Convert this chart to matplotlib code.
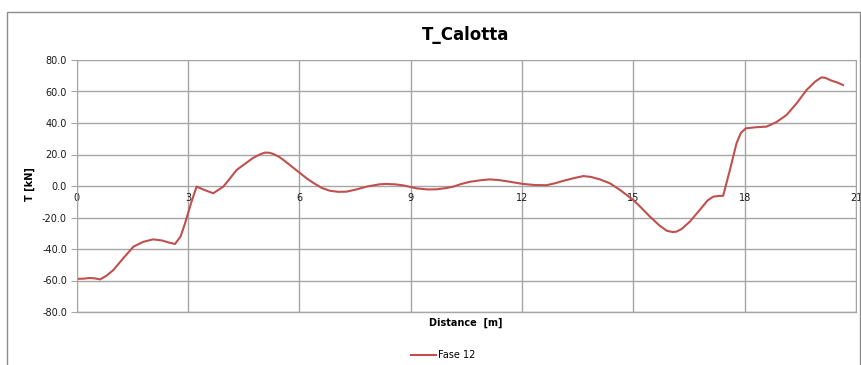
import matplotlib.pyplot as plt
from matplotlib.patches import Rectangle
from matplotlib.ticker import FormatStrFormatter

# distance along the section [m] and axial force T [kN]
distance = [0.0, 0.2, 0.36, 0.5, 0.63, 0.8, 0.99, 1.25, 1.53, 1.8, 2.06,
            2.3, 2.5, 2.65, 2.8, 2.92, 3.08, 3.23, 3.45, 3.68, 3.95, 4.12,
            4.31, 4.49, 4.75, 4.95, 5.07, 5.2, 5.30, 5.45, 5.6, 5.97, 6.2,
            6.37, 6.6, 6.82, 7.05, 7.27, 7.55, 7.81, 8.17, 8.35, 8.6, 8.80,
            9.16, 9.45, 9.70, 9.95, 10.15, 10.35, 10.60, 10.9, 11.13, 11.4,
            11.67, 12.03, 12.35, 12.66, 12.9, 13.10, 13.4, 13.65, 13.85,
            14.10, 14.37, 14.64, 15.00, 15.2, 15.45, 15.7, 15.9, 16.05,
            16.16, 16.3, 16.52, 16.79, 17.0, 17.15, 17.3, 17.42, 17.6,
            17.78, 17.9, 18.03, 18.3, 18.59, 18.85, 19.13, 19.4, 19.67, 19.9,
            20.07, 20.18, 20.34, 20.5, 20.65]
force = [-59.0, -58.8, -58.4, -58.7, -59.3, -57.0, -53.3, -46.0, -38.5,
         -35.4, -33.9, -34.6, -36.0, -36.8, -32.0, -23.7, -11.0, -0.4, -2.6,
         -4.6, -0.4, 4.5, 10.2, 13.3, 17.8, 20.2, 21.2, 21.1, 20.3, 18.6,
         16.0, 9.1, 4.8, 2.1, -1.2, -3.0, -3.7, -3.6, -2.1, -0.4, 1.1, 1.3,
         1.0, 0.4, -1.5, -2.2, -2.1, -1.3, -0.4, 1.2, 2.7, 3.7, 4.2, 3.7,
         2.7, 1.3, 0.6, 0.5, 1.8, 3.2, 5.0, 6.3, 5.8, 4.2, 1.7, -2.5, -8.9,
         -13.5, -19.5, -25.0, -28.4, -29.2, -29.0, -27.3, -22.7, -15.2,
         -9.2, -6.8, -6.3, -6.2, 10.0, 27.1, 33.8, 36.6, 37.3, 37.7, 40.5,
         45.1, 52.5, 61.0, 66.3, 69.0, 68.6, 66.9, 65.7, 64.1]

x_ticks = [0, 3, 6, 9, 12, 15, 18, 21]
y_ticks = [-80, -60, -40, -20, 0, 20, 40, 60, 80]

grid_col = '#a6a6a6'
line_col = '#c0504d'

fig = plt.figure(figsize=(8.62, 3.65), dpi=100)
fig.patches.append(Rectangle((7 / 862, -0.05), 853 / 862, 1.05 - 12 / 365,
                             transform=fig.transFigure, fill=False,
                             edgecolor='#8c8c8c', linewidth=1.0))

ax = fig.add_axes([76.7 / 862, 53 / 365, 779.3 / 862, 252 / 365])
ax.plot(distance, force, color=line_col, linewidth=1.5, label='Fase 12',
        solid_joinstyle='round')

ax.set_xlim(0, 21)
ax.set_ylim(-80, 80)
ax.set_xticks(x_ticks)
ax.set_yticks(y_ticks)
ax.yaxis.set_major_formatter(FormatStrFormatter('%.1f'))
ax.grid(True, color=grid_col, linewidth=1.0)
ax.set_axisbelow(True)
# bottom edge of the plot area
ax.axhline(-80, color=grid_col, linewidth=1.0, clip_on=False, zorder=0.5)

# x labels sit on the zero line, like the spreadsheet original
ax.spines['bottom'].set_position(('data', 0))
for side in ['top', 'right', 'left', 'bottom']:
    ax.spines[side].set_color(grid_col)
ax.spines['bottom'].set_visible(False)
ax.tick_params(axis='x', length=0, pad=5, labelsize=7)
ax.tick_params(axis='y', length=4, color=grid_col, labelsize=7, pad=3)
for lab in ax.get_xticklabels() + ax.get_yticklabels():
    lab.set_color('#1a1a1a')

fig.text(466 / 862, 1 - 35 / 365, 'T_Calotta', ha='center', va='center',
         fontsize=12, fontweight='bold')
fig.text(466 / 862, 1 - 323 / 365, 'Distance  [m]', ha='center', va='center',
         fontsize=7, fontweight='bold')
fig.text(30 / 862, 1 - 184 / 365, 'T [kN]', ha='center', va='center',
         rotation=90, fontsize=7, fontweight='bold')

fig.legend(loc='center', bbox_to_anchor=(443 / 862, 1 - 355 / 365),
           frameon=False, fontsize=7, handlelength=2.6, handletextpad=0.2)

fig.savefig('out.png', dpi=100)
